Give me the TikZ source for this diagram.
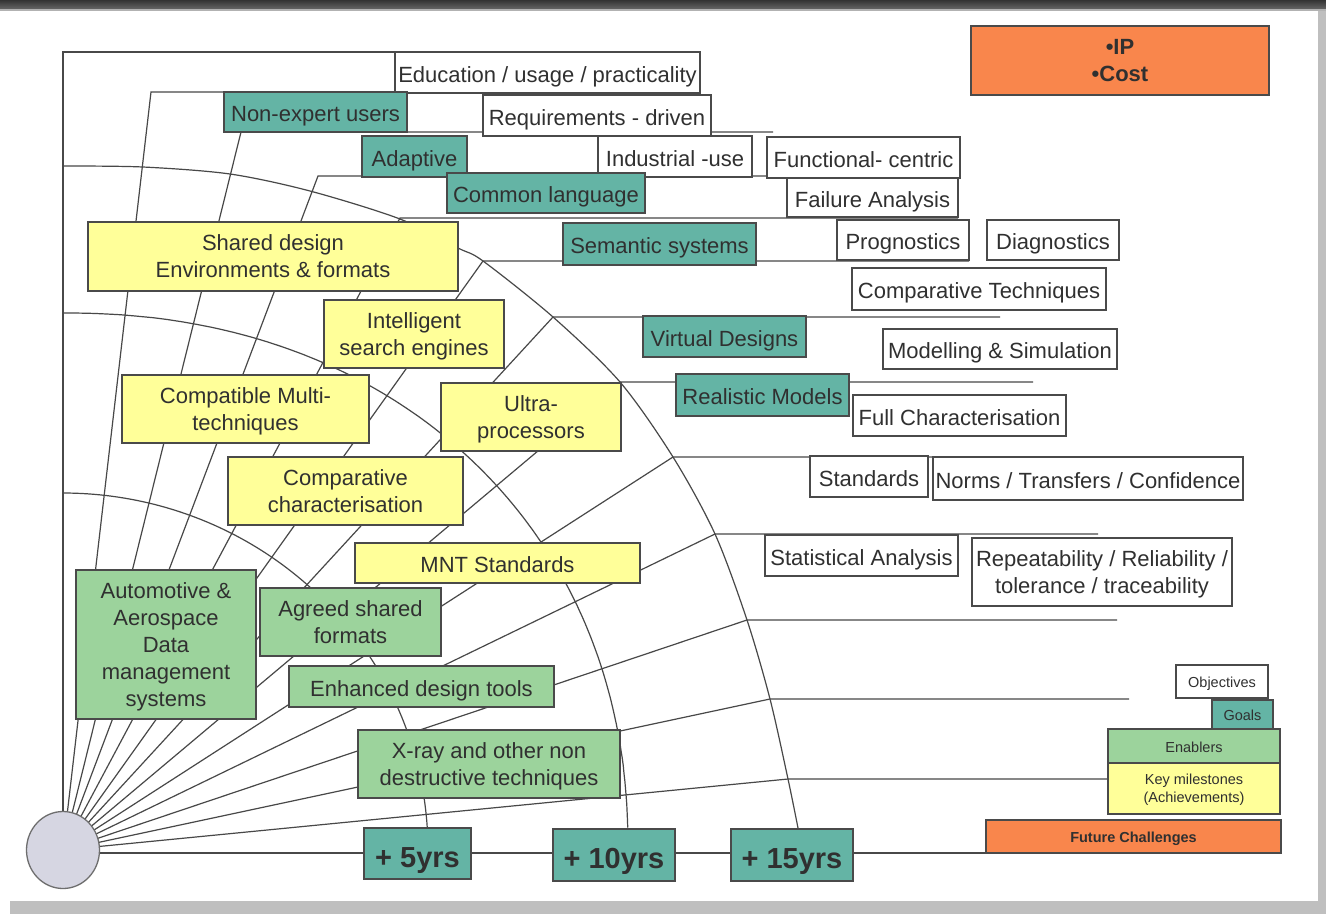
\documentclass[tikz,border=0pt]{standalone}
\usepackage{fontspec}
\setmainfont{Liberation Sans}
\usetikzlibrary{shapes.geometric}

\definecolor{goalteal}{HTML}{64B4A5}
\definecolor{mileyellow}{HTML}{FFFF99}
\definecolor{enablegreen}{HTML}{9CD39C}
\definecolor{challorange}{HTML}{F9864C}
\definecolor{webgray}{HTML}{484848}
\definecolor{boxline}{HTML}{4A4A4A}
\definecolor{txt}{HTML}{303030}
\definecolor{hubfill}{HTML}{D6D6E2}
\definecolor{hubline}{HTML}{6E6E6E}

% box: name, x1, y1, x2, y2, style, text
\newcommand\bx[7]{%
  \node[#6, minimum width={(#4-#2)*1pt}, minimum height={(#5-#3)*1pt}]
    (#1) at ({(#2+#4)/2},{(#3+#5)/2}) {#7};}

\begin{document}
\begin{tikzpicture}[x=1pt,y=-1pt,
  webline/.style={draw=webgray, line width=1.2pt},
  tbox/.style={draw=boxline, line width=1.1pt, inner sep=0pt, align=center,
    text=txt, text height=19.5pt, text depth=0pt, font=\fontsize{22}{27}\selectfont},
  multiline/.style={text height={}, text depth=-3pt},
  goal/.style={tbox, fill=goalteal},
  mile/.style={tbox, fill=mileyellow},
  enab/.style={tbox, fill=enablegreen},
  objective/.style={tbox, fill=white},
  chall/.style={tbox, fill=challorange, font=\bfseries\fontsize{22}{27}\selectfont},
  yearbox/.style={tbox, fill=goalteal, text height=27pt,
    font=\bfseries\fontsize{29}{34}\selectfont},
  legendtxt/.style={text height=12.5pt, font=\fontsize{14.5}{18}\selectfont}]

\fill[white] (0,0) rectangle (1326,914);
\useasboundingbox (0,0) rectangle (1326,914);

% page frame: title bar, right and bottom strips
\shade[top color=black!80, bottom color=black!60] (0,0) rectangle (1326,9);
\fill[black!30] (0,9) rectangle (1326,11);
\fill[black!25] (1318,11) rectangle (1326,914);
\fill[black!25] (10,901) rectangle (1326,914);

% rays from the hub, each turning into a horizontal row
\coordinate (O) at (63,850);
\foreach \n/\tx/\ty/\ex in {0/63/52/700, 1/151/92/700, 2/241/132/773,
    3/318/176/960, 4/400/218/958, 5/483/261/969, 6/553/317/1000,
    7/620/382/1033, 8/673/457/1073, 9/715/534/1098, 10/747/620/1117,
    11/770/699/1129, 12/788/779/1108}
  \draw[webline] (O) -- (\tx,\ty) coordinate (t\n) -- (\ex,\ty) coordinate (e\n);
\draw[webline] (63,853) -- (986,853);

% time horizons: +5, +10 and +15 years
\draw[webline] plot[domain=3.53:90, samples=90]
  ({63+365*cos(\x)},{850-357*sin(\x)});
\draw[webline] plot[domain=1.85:89.5, samples=120]
  ({63+565*cos(\x)^0.93},{850-537*sin(\x)^0.93}) -- (63,313);
\draw[webline] plot[smooth] coordinates {(63,166) (143,167) (230,174)
  (310,191) (400,219) (458,248) (483,261) (553,317) (620,382) (673,457)
  (715,534) (747,620) (770,699) (788,779) (798,828)};

% objectives
\bx{edu}{395}{52}{700}{93}{objective}{Education / usage / practicality}
\bx{req}{483}{95}{711}{136}{objective}{Requirements - driven}
\bx{ind}{598}{136}{752}{177}{objective}{Industrial -use}
\bx{fun}{767}{137}{960}{178}{objective}{Functional- centric}
\bx{fail}{787}{178}{958}{217}{objective}{Failure Analysis}
\bx{prog}{837}{220}{969}{260}{objective}{Prognostics}
\bx{diag}{987}{220}{1119}{260}{objective}{Diagnostics}
\bx{compt}{852}{268}{1106}{310}{objective}{Comparative Techniques}
\bx{model}{883}{329}{1117}{369}{objective}{Modelling \& Simulation}
\bx{fullc}{853}{395}{1066}{436}{objective}{Full Characterisation}
\bx{stds}{810}{456}{928}{497}{objective}{Standards}
\bx{norms}{933}{457}{1243}{500}{objective}{Norms / Transfers / Confidence}
\bx{stat}{765}{535}{958}{576}{objective}{Statistical Analysis}
\bx{rep}{972}{538}{1232}{606}{objective,multiline}{Repeatability / Reliability /\\tolerance / traceability}

% goals
\bx{nonexp}{224}{92}{407}{132}{goal}{Non-expert users}
\bx{adapt}{362}{136}{467}{177}{goal}{Adaptive}
\bx{common}{447}{173}{645}{213}{goal}{Common language}
\bx{sem}{563}{223}{756}{265}{goal}{Semantic systems}
\bx{virt}{643}{316}{806}{357}{goal}{Virtual Designs}
\bx{real}{676}{374}{849}{416}{goal}{Realistic Models}

% key milestones
\bx{shared}{88}{222}{458}{291}{mile,multiline}{Shared design\\Environments \& formats}
\bx{intel}{324}{300}{504}{368}{mile,multiline}{Intelligent\\search engines}
\bx{compat}{122}{375}{369}{443}{mile,multiline}{Compatible Multi-\\techniques}
\bx{ultra}{441}{383}{621}{451}{mile,multiline}{Ultra-\\processors}
\bx{compch}{228}{457}{463}{525}{mile,multiline}{Comparative\\characterisation}
\bx{mnt}{355}{543}{640}{583}{mile}{MNT Standards}

% enablers
\bx{auto}{76}{570}{256}{719}{enab,multiline}{Automotive \&\\Aerospace\\Data\\management\\systems}
\bx{agreed}{260}{588}{441}{656}{enab,multiline}{Agreed shared\\formats}
\bx{enh}{289}{666}{554}{707}{enab}{Enhanced design tools}
\bx{xray}{358}{730}{620}{798}{enab,multiline}{X-ray and other non\\destructive techniques}

% time axis
\bx{y5}{364}{828}{471}{879}{yearbox}{+ 5yrs}
\bx{y10}{553}{829}{675}{881}{yearbox}{+ 10yrs}
\bx{y15}{731}{829}{853}{881}{yearbox}{+ 15yrs}

% future challenges
\bx{ipc}{971}{26}{1269}{95}{chall,multiline}{•IP\\•Cost}

% legend
\bx{objl}{1176}{665}{1268}{698}{objective,legendtxt}{Objectives}
\bx{goall}{1212}{700}{1273}{729}{goal,legendtxt}{Goals}
\bx{enabl}{1108}{729}{1280}{763}{enab,legendtxt}{Enablers}
\bx{keyl}{1108}{763}{1280}{814}{mile,legendtxt,multiline,text depth=-4pt}{Key milestones\\(Achievements)}
\bx{futl}{986}{820}{1281}{853}{chall,legendtxt,font=\bfseries\fontsize{14.5}{18}\selectfont}{Future Challenges}

% hub
\node[ellipse, minimum width=73pt, minimum height=77pt, inner sep=0pt,
  fill=hubfill, draw=hubline, line width=1.3pt] (hub) at (O) {};
\end{tikzpicture}
\end{document}
